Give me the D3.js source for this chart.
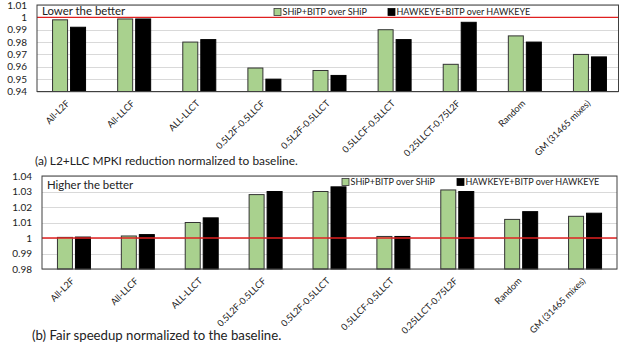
<!DOCTYPE html>
<html>
<head>
<meta charset="utf-8">
<script src="https://cdn.jsdelivr.net/npm/d3@7"></script>
<style>
  html, body { margin: 0; padding: 0; background: #fff; }
  svg { display: block; font-family: Lato, "Open Sans", sans-serif; }
</style>
</head>
<body>
<svg id="chart" width="619" height="347"></svg>
<script>
const categories = ["All-L2F", "All-LLCF", "ALL-LLCT", "0.5L2F-0.5LLCF", "0.5L2F-0.5LLCT",
  "0.5LLCF-0.5LLCT", "0.25LLCT-0.75L2F", "Random", "GM (31465 mixes)"];
const seriesNames = ["SHiP+BITP over SHiP", "HAWKEYE+BITP over HAWKEYE"];

// (a) L2+LLC MPKI normalized to baseline
const mpkiShip    = [0.998, 0.9987, 0.980, 0.959, 0.957, 0.990, 0.962, 0.985, 0.970];
const mpkiHawkeye = [0.992, 0.9987, 0.982, 0.950, 0.953, 0.982, 0.996, 0.980, 0.968];
const mpkiTicks   = [0.94, 0.95, 0.96, 0.97, 0.98, 0.99, 1.00, 1.01];

// (b) Fair speedup normalized to baseline
const speedShip    = [1.0004, 1.0013, 1.010, 1.028, 1.030, 1.001, 1.031, 1.012, 1.014];
const speedHawkeye = [1.0006, 1.0022, 1.013, 1.030, 1.033, 1.001, 1.030, 1.017, 1.016];
const speedTicks   = [0.98, 0.99, 1.00, 1.01, 1.02, 1.03, 1.04];

const svg = d3.select("#chart");
const GREEN = "#a9d18e", BLACK = "#000000", RED = "#e02020", GRID = "#d9d9d9", FRAME = "#404040";

function panel(o) {
  const g = svg.append("g");
  const x = d3.scaleBand().domain(categories).range([o.bandL, o.bandR]);
  const y = d3.scaleLinear().domain([o.ticks[0], o.ticks[o.ticks.length - 1]]).range([o.yB, o.yT]);
  const frameR = Math.min(o.bandR, 618.5);

  // gridlines
  g.append("g").selectAll("line").data(o.ticks).join("line")
    .attr("x1", o.frameL).attr("x2", frameR)
    .attr("y1", d => Math.round(y(d)) + 0.5).attr("y2", d => Math.round(y(d)) + 0.5)
    .attr("stroke", GRID).attr("stroke-width", 1);

  // y-axis labels
  const yAxis = d3.axisLeft(y).tickValues(o.ticks).tickSize(0).tickPadding(0)
    .tickFormat(d => String(+d.toFixed(2)));
  const ya = g.append("g").attr("transform", `translate(${o.yLabelX},0)`).call(yAxis);
  ya.select(".domain").remove();
  ya.selectAll("text").attr("font-family", "Lato, sans-serif").attr("font-size", 10).attr("fill", "#222");

  // bars
  const bw = 15, gap = 3;
  const pairs = categories.map((c, i) => ({ c, vals: [o.s1[i], o.s2[i]] }));
  const bars = g.append("g");
  pairs.forEach(p => {
    const cx = x(p.c) + x.bandwidth() / 2;
    p.vals.forEach((v, j) => {
      const x0 = j === 0 ? cx - gap / 2 - bw : cx + gap / 2;
      bars.append("rect")
        .attr("x", x0).attr("width", bw)
        .attr("y", y(v)).attr("height", y(o.ticks[0]) - y(v))
        .attr("fill", j === 0 ? GREEN : BLACK)
        .attr("stroke", j === 0 ? "#333" : BLACK).attr("stroke-width", 1);
    });
  });

  // red baseline at 1
  g.append("line").attr("x1", o.frameL).attr("x2", frameR)
    .attr("y1", y(1)).attr("y2", y(1)).attr("stroke", RED).attr("stroke-width", 1.3);

  // frame
  g.append("rect").attr("x", o.frameL).attr("y", y(o.ticks[o.ticks.length - 1]))
    .attr("width", frameR - o.frameL).attr("height", y(o.ticks[0]) - y(o.ticks[o.ticks.length - 1]))
    .attr("fill", "none").attr("stroke", FRAME).attr("stroke-width", 1);

  // x labels
  const xl = g.append("g");
  categories.forEach(c => {
    const cx = x(c) + x.bandwidth() / 2;
    xl.append("text")
      .attr("transform", `translate(${cx + o.lblDx},${y(o.ticks[0]) + o.lblDy}) rotate(-45)`)
      .attr("text-anchor", "end").attr("font-size", 9.2).attr("fill", "#222")
      .text(c);
  });

  // note
  g.append("text").attr("x", o.frameL + 5).attr("y", o.noteY)
    .attr("font-size", 11.4).attr("fill", "#222").text(o.note);

  // legend
  const leg = g.append("g");
  seriesNames.forEach((s, j) => {
    const lx = o.legX[j];
    leg.append("rect").attr("x", lx).attr("y", o.legY - 3.5).attr("width", 7).attr("height", 7)
      .attr("fill", j === 0 ? GREEN : BLACK).attr("stroke", j === 0 ? "#333" : BLACK).attr("stroke-width", 0.8);
    leg.append("text").attr("x", lx + 8.5).attr("y", o.legY).attr("dy", "0.35em")
      .attr("font-size", 9).attr("fill", "#222").text(s);
  });

  // caption
  g.append("text").attr("x", o.capX).attr("y", o.capY)
    .attr("font-size", o.capSize).attr("fill", "#222").text(o.caption);
}

panel({
  bandL: 36.5, bandR: 622.5, frameL: 37, yT: 5, yB: 91.5,
  ticks: mpkiTicks, s1: mpkiShip, s2: mpkiHawkeye, yLabelX: 27,
  lblDx: 1, lblDy: 12.5,
  note: "Lower the better", noteY: 15,
  legX: [274, 388], legY: 12,
  caption: "(a) L2+LLC MPKI reduction normalized to baseline.", capX: 35, capY: 165, capSize: 11.9
});

panel({
  bandL: 42, bandR: 617, frameL: 42, yT: 176, yB: 269,
  ticks: speedTicks, s1: speedShip, s2: speedHawkeye, yLabelX: 32,
  lblDx: 1, lblDy: 12.5,
  note: "Higher the better", noteY: 189,
  legX: [342, 457], legY: 182,
  caption: "(b) Fair speedup normalized to the baseline.", capX: 32, capY: 340, capSize: 13.2
});
</script>
</body>
</html>
